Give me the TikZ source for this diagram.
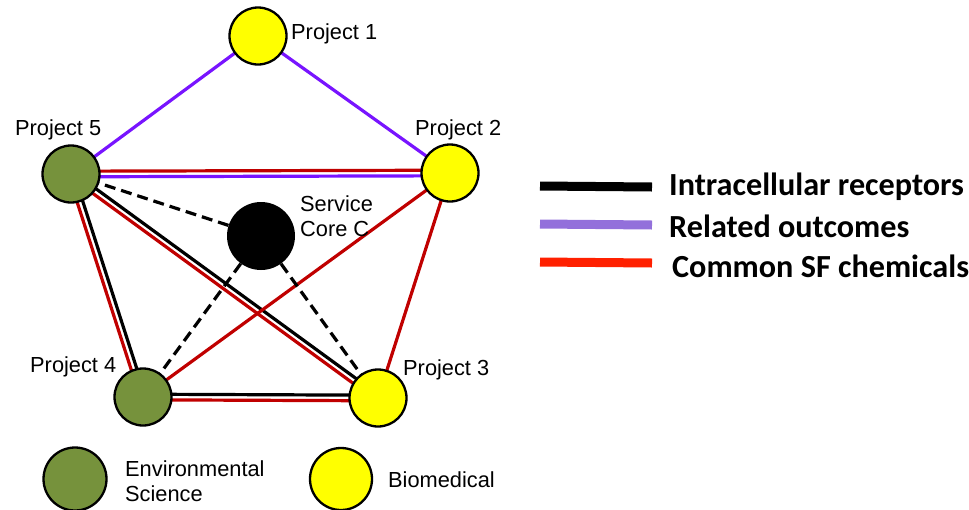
\documentclass[tikz,border=0pt]{standalone}
\usepackage{fontspec}
\setmainfont{Liberation Sans}
\newfontfamily\legfont{Carlito}
\usetikzlibrary{calc,backgrounds}
\definecolor{envgreen}{RGB}{118,146,60}
\definecolor{bioyellow}{RGB}{255,255,0}
\definecolor{purp}{RGB}{120,20,255}
\definecolor{redline}{RGB}{192,0,0}
\definecolor{legpurp}{RGB}{147,112,219}
\definecolor{legred}{RGB}{255,32,0}
\newcommand{\dbledge}[4]{%
  \draw[edgeline,#3] ($(#1.center)!2.8pt!90:(#2.center)$) -- ($(#2.center)!2.8pt!-90:(#1.center)$);
  \draw[edgeline,#4] ($(#1.center)!2.8pt!-90:(#2.center)$) -- ($(#2.center)!2.8pt!90:(#1.center)$);
}
\begin{document}
\begin{tikzpicture}[x=1pt,y=-1pt,
  proj/.style={circle,draw=black,line width=2.3pt,minimum size=57pt,inner sep=0pt},
  env/.style={proj,fill=envgreen},
  bio/.style={proj,fill=bioyellow},
  lbl/.style={anchor=west,inner sep=0pt,font=\fontsize{21.8}{25}\selectfont,align=left},
  edgeline/.style={line width=3.2pt},
  dashline/.style={line width=3.2pt,black,dash pattern=on 11pt off 6pt},
  legline/.style={line width=9pt},
  legtext/.style={anchor=west,inner sep=0pt,font=\legfont\bfseries\fontsize{32.2}{36}\selectfont}
]
\useasboundingbox (0,0) rectangle (969,509);

% nodes
\node[bio] (p1) at (258,36) {};
\node[env] (p5) at (71,174) {};
\node[bio] (p2) at (450,173) {};
\node[circle,fill=black,minimum width=68pt,minimum height=63pt,inner sep=0pt] (sc) at (261,236) {};
\node[env] (p4) at (143,397) {};
\node[bio] (p3) at (378,398) {};

% labels
\node[lbl] (l1) at (291,34) {Project 1};
\node[lbl] (l5) at (15,130) {Project 5};
\node[lbl] (l2) at (415,130) {Project 2};
\node[lbl] (lsc) at (300,216) {Service\\Core C};
\node[lbl] (l4) at (30,367) {Project 4};
\node[lbl] (l3) at (403,370) {Project 3};

% edges
\begin{pgfonlayer}{background}
\draw[edgeline,purp] (p1.center) -- (p5.center);
\draw[edgeline,purp] (p1.center) -- (p2.center);
\dbledge{p5}{p2}{redline}{purp}
\dbledge{p5}{p4}{black}{redline}
\dbledge{p5}{p3}{black}{redline}
\dbledge{p4}{p3}{black}{redline}
\draw[edgeline,redline] (p4.center) -- (p2.center);
\draw[edgeline,redline] (p2.center) -- (p3.center);
\draw[dashline] (sc) -- (p5.center);
\draw[dashline] (sc) -- (p4.center);
\draw[dashline] (sc) -- (p3.center);
\end{pgfonlayer}

% bottom legend
\node[env,minimum width=63pt,minimum height=59pt] (ge) at (75,479) {};
\node[lbl] (gel) at (125,481.5) {Environmental\\Science};
\node[bio,minimum width=62pt,minimum height=58pt] (gb) at (341,479) {};
\node[lbl] (gbl) at (388,480) {Biomedical};

% right legend
\coordinate (a1) at (540,186); \coordinate (b1) at (652,187);
\coordinate (a2) at (540,224); \coordinate (b2) at (652,225);
\coordinate (a3) at (540,262); \coordinate (b3) at (652,263);
\draw[legline,black] (a1) -- (b1);
\draw[legline,legpurp] (a2) -- (b2);
\draw[legline,legred] (a3) -- (b3);
\node[legtext] (t1) at (669,187) {Intracellular receptors};
\node[legtext] (t2) at (669,226) {Related outcomes};
\node[legtext] (t3) at (672,266) {Common SF chemicals};
\end{tikzpicture}
\end{document}
